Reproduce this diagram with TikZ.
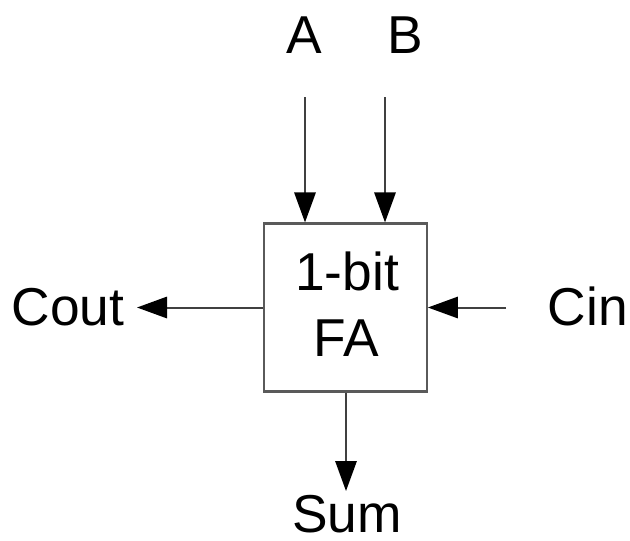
\documentclass[tikz,border=0pt]{standalone}
\usepackage{fontspec}
\setmainfont{Liberation Sans}
\usetikzlibrary{arrows.meta}
\definecolor{boxline}{HTML}{5A5A5A}
\definecolor{wire}{HTML}{404040}
\begin{document}
\begin{tikzpicture}[x=0.75pt,y=-0.75pt,
  lbl/.style={font=\fontsize{40}{48}\selectfont, anchor=base, inner sep=0pt},
  blk/.style={draw=boxline, line width=1.6pt, fill=white, minimum width=122pt, minimum height=126pt, inner sep=0pt},
  arr/.style={draw=wire, line width=1.5pt, -{Triangle[length=22.5pt,width=16pt,color=black,fill=black]}}]
\useasboundingbox (0,0) rectangle (630,540);
\node[blk] (fa) at (345.5,307.5) {};
\node[lbl] (t1) at (347,290) {1-bit};
\node[lbl] (t2) at (346,356) {FA};
\node[lbl] (la) at (304,53) {A};
\node[lbl] (lb) at (405,53) {B};
\node[lbl] (lcout) at (68,325) {Cout};
\node[lbl] (lcin) at (588,325) {Cin};
\node[lbl, text depth=0pt] (lsum) at (347,532) {Sum};
\coordinate (a0) at (305,97);
\coordinate (b0) at (385,97);
\coordinate (c0) at (506,307.5);
\coordinate (co) at (137,307.5);
\coordinate (s0) at (346,491);
\draw[arr] (a0) -- (a0 |- fa.north);
\draw[arr] (b0) -- (b0 |- fa.north);
\draw[arr] (c0) -- (fa.east);
\draw[arr] (fa.west) -- (co);
\draw[arr] (s0 |- fa.south) -- (s0);
\end{tikzpicture}
\end{document}
